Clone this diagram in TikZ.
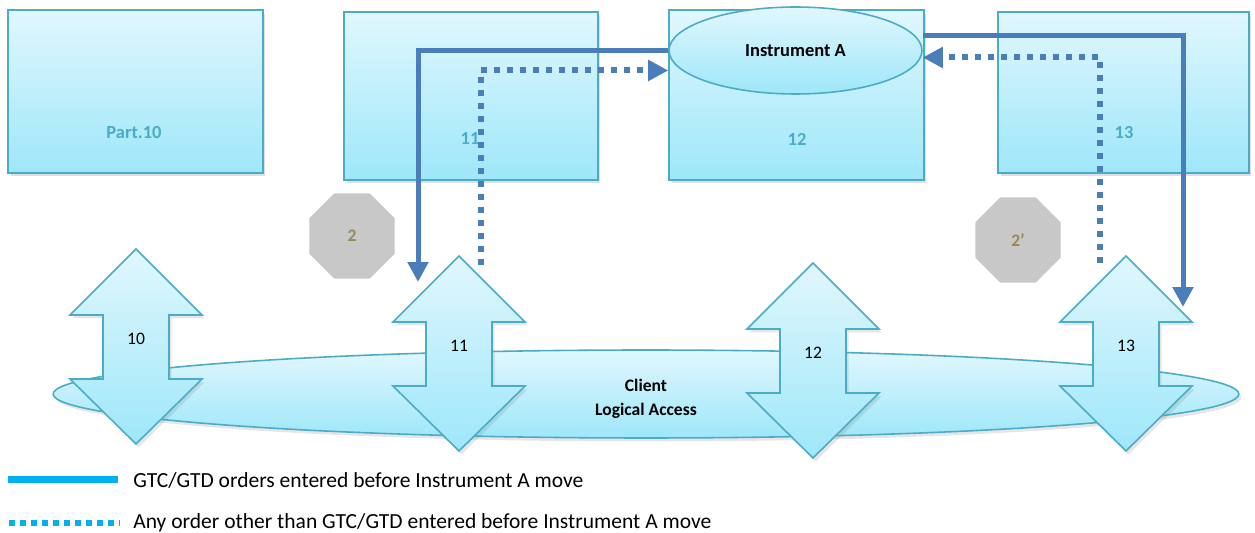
\documentclass[tikz,border=0pt]{standalone}
\usepackage{fontspec}
\setmainfont{Carlito}
\usetikzlibrary{positioning,shapes.geometric,arrows.meta,shadows}
\definecolor{partline}{RGB}{75,172,198}
\definecolor{parttop}{RGB}{225,247,253}
\definecolor{partbot}{RGB}{158,231,250}
\definecolor{flowblue}{RGB}{74,126,187}
\definecolor{legcyan}{RGB}{0,176,240}
\definecolor{octgray}{RGB}{200,200,200}
\definecolor{octtext}{RGB}{148,138,84}
\tikzset{
  part box/.style={rectangle,draw=partline,line width=0.9pt,top color=parttop,bottom color=partbot,
    drop shadow={opacity=0.25,shadow xshift=0.05cm,shadow yshift=-0.07cm}},
  part label/.style={text=partline,font=\bfseries\fontsize{10.5}{12}\selectfont},
  access arrow/.style={draw=partline,line width=0.9pt,top color=parttop,bottom color=partbot,
    drop shadow={opacity=0.2,shadow xshift=0.05cm,shadow yshift=-0.07cm}},
  step oct/.style={regular polygon,regular polygon sides=8,fill=octgray,minimum size=1.85cm,
    inner sep=0pt,text=octtext,font=\bfseries\fontsize{10}{12}\selectfont},
  gtc/.style={draw=flowblue,line width=0.1cm,-{Triangle[width=0.4cm,length=0.4cm]}},
  other/.style={draw=flowblue,line width=0.12cm,dash pattern=on 0.12cm off 0.14cm,
    -{Triangle[width=0.4cm,length=0.4cm]}}
}

\begin{document}
\begin{tikzpicture}[x=0.02cm,y=-0.02cm]
  \useasboundingbox (0,0) rectangle (1255,533);

  % participant boxes
  \foreach \n/\x/\y/\w/\h/\t in {10/135.5/91.5/5.1/3.26/Part.10,11/471/96/5.08/3.36/11,
      12/796.5/95/5.1/3.4/12,13/1123.5/92.5/5.02/3.22/13}{
    \node[part box,minimum width=\w cm,minimum height=\h cm] (p\n) at (\x,\y) {};
  }
  \foreach \n/\x/\y/\t in {10/134/133/Part.10,11/470/139/11,12/797/139/12,13/1124/133/13}{
    \node[part label] (pl\n) at (\x,\y) {\t};
  }

  \node[ellipse,draw=partline,line width=0.9pt,top color=parttop,bottom color=partbot,
    minimum width=5.06cm,minimum height=1.74cm,font=\bfseries\fontsize{10.5}{12}\selectfont]
    (IA) at (795.5,50.5) {Instrument A};

  % steps
  \node[step oct] (s2) at (352,236) {2};
  \node[step oct] (s2p) at (1018,240) {2’};

  % client logical access
  \node[ellipse,draw=partline,line width=0.9pt,top color=parttop,bottom color=partbot,
    minimum width=23.72cm,minimum height=1.76cm,
    drop shadow={opacity=0.2,shadow xshift=0.05cm,shadow yshift=-0.07cm}] (client) at (646,394) {};
  \node[align=center,font=\bfseries\fontsize{10}{13.6}\selectfont] (clientlbl) at (646,399)
    {Client\\Logical Access};

  % access arrows
  \foreach \n/\x/\y in {10/136/346,11/459/353,12/813/360,13/1126/353}{
    \path[access arrow,shift={(\x,\y)}] (0,-97) -- (66,-31) -- (33,-31) -- (33,33) -- (66,33)
      -- (0,98) -- (-66,33) -- (-33,33) -- (-33,-31) -- (-66,-31) -- cycle;
    \node[font=\fontsize{10}{12}\selectfont] (acc\n) at (\x,\y-7) {\n};
  }

  % order flows
  \coordinate (g11) at (418,282);
  \coordinate (g13) at (1183,307);
  \coordinate (o11) at (481,265);
  \coordinate (o13) at (1100,263);
  \draw[gtc] (IA.west) -| (g11);
  \draw[gtc] ([yshift=0.3cm]IA.east) -| (g13);
  \draw[other] (o11) |- ([yshift=-0.4cm]IA.west);
  \draw[other] (o13) |- ([yshift=-0.14cm]IA.east);

  % legend
  \coordinate (leg1a) at (8,480);
  \coordinate (leg1b) at (118,480);
  \coordinate (leg2a) at (9,523);
  \coordinate (leg2b) at (120,523);
  \draw[legcyan,line width=0.14cm] (leg1a) -- (leg1b);
  \draw[legcyan,line width=0.14cm,dash pattern=on 0.12cm off 0.1cm] (leg2a) -- (leg2b);
  \node[anchor=west,inner sep=0pt,font=\fontsize{12.25}{14}\selectfont] (leg1) at (133,480)
    {GTC/GTD orders entered before Instrument A move};
  \node[anchor=west,inner sep=0pt,font=\fontsize{12.25}{14}\selectfont] (leg2) at (133,523)
    {Any order other than GTC/GTD entered before Instrument A move};
\end{tikzpicture}
\end{document}
